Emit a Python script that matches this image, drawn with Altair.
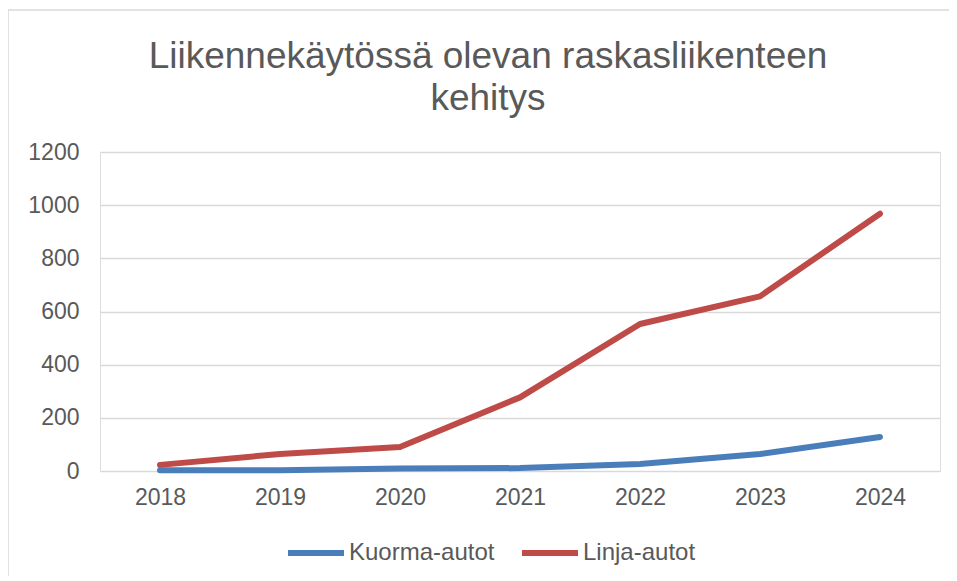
import altair as alt
import pandas as pd

years = ["2018", "2019", "2020", "2021", "2022", "2023", "2024"]
kuorma = [3, 3, 9, 11, 26, 64, 128]
linja = [23, 64, 90, 277, 553, 657, 968]
series_names = ["Kuorma-autot", "Linja-autot"]
series_colors = ["#4A7EBB", "#BE4B48"]
y_ticks = [0, 200, 400, 600, 800, 1000, 1200]

rows = []
for name, vals in zip(series_names, [kuorma, linja]):
    for yr, v in zip(years, vals):
        rows.append({"Vuosi": yr, "Sarja": name, "Arvo": v})
df = pd.DataFrame(rows)

FONT = "Liberation Sans"
GRAY = "#595959"
GRID = "#D9D9D9"

lines = alt.Chart(df).mark_line(strokeWidth=6, strokeCap="round", strokeJoin="round").encode(
    x=alt.X("Vuosi:O", sort=years,
            scale=alt.Scale(padding=0.5),
            axis=alt.Axis(title=None, labelAngle=0, ticks=False, domain=False, grid=False,
                          labelFont=FONT, labelFontSize=23, labelColor=GRAY, labelPadding=15)),
    y=alt.Y("Arvo:Q", scale=alt.Scale(domain=[0, 1200], nice=False),
            axis=alt.Axis(title=None, values=y_ticks, format="d", ticks=False, domain=False,
                          gridColor=GRID, gridWidth=1.5,
                          labelFont=FONT, labelFontSize=23, labelColor=GRAY, labelPadding=21)),
    color=alt.Color("Sarja:N", scale=alt.Scale(domain=series_names, range=series_colors),
                    legend=alt.Legend(title=None, orient="none", direction="horizontal",
                                      legendX=185, legendY=370,
                                      symbolType="stroke", symbolSize=3136, symbolStrokeWidth=6,
                                      labelFont=FONT, labelFontSize=24, labelColor=GRAY,
                                      labelOffset=2, columnPadding=15)),
)

edge = alt.Data(values=[{"f": 1}])
top_edge = alt.Chart(edge).mark_rule(stroke=GRID, strokeWidth=1.5).encode(
    x=alt.value(-92), x2=alt.value(849), y=alt.value(-142)
)
left_edge = alt.Chart(edge).mark_rule(stroke=GRID, strokeWidth=1.5).encode(
    x=alt.value(-92), y=alt.value(-142), y2=alt.value(700)
)

chart = alt.layer(top_edge, left_edge, lines).properties(
    width=840, height=319,
    title=alt.Title(["Liikennekäytössä olevan raskasliikenteen", "kehitys"],
                    font=FONT, fontSize=37, fontWeight="normal", color=GRAY,
                    lineHeight=42, anchor="middle", dx=-32, offset=-109),
    autosize=alt.AutoSizeParams(type="none"),
    padding={"left": 92, "top": 144, "right": 9, "bottom": 105},
).configure_view(stroke=None).configure(background="white")

chart.save("out.html", embed_options={"renderer": "svg", "actions": False})
